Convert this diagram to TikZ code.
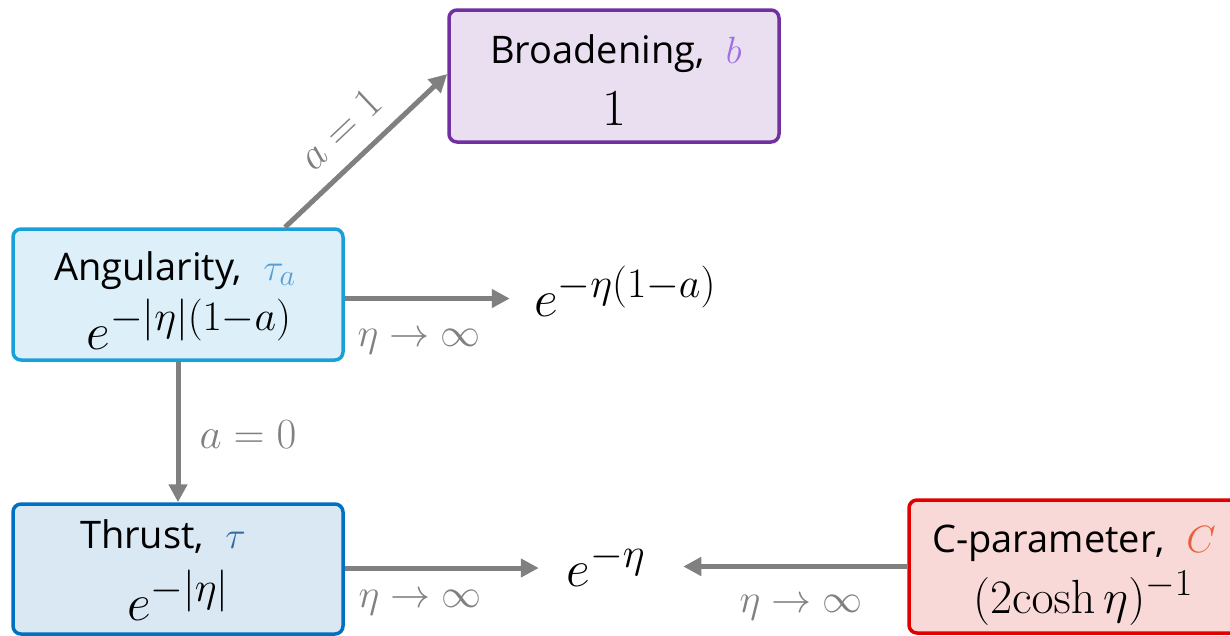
\RequirePackage{fix-cm}
\documentclass[tikz,border=0pt]{standalone}
\usepackage[no-math]{fontspec}
\setmainfont{Open Sans}
\usetikzlibrary{arrows.meta,calc}
\DeclareMathSizes{52}{52}{42}{32}
\DeclareMathSizes{48}{48}{38}{29}
\DeclareMathSizes{38}{38}{30}{22}
\definecolor{arrgray}{HTML}{808080}
\definecolor{brofill}{HTML}{E9DFF1}
\definecolor{brodraw}{HTML}{7030A0}
\definecolor{brosym}{HTML}{A070E0}
\definecolor{angfill}{HTML}{DDEFF8}
\definecolor{angdraw}{HTML}{17A1D8}
\definecolor{angsym}{HTML}{5A9FD0}
\definecolor{thrfill}{HTML}{DAE8F4}
\definecolor{thrdraw}{HTML}{0070C0}
\definecolor{thrsym}{HTML}{2E6AA6}
\definecolor{cpfill}{HTML}{F9D9D8}
\definecolor{cpdraw}{HTML}{E00000}
\definecolor{cpsym}{HTML}{E8603C}
\tikzset{
  box/.style={rectangle, rounded corners=8pt, line width=3.5pt, minimum width=330pt, minimum height=131pt, inner sep=0pt},
  title/.style={font=\fontsize{38}{42}\selectfont, inner sep=0pt, anchor=base},
  formula/.style={font=\fontsize{52}{58}\selectfont, inner sep=0pt, anchor=base},
  lbl/.style={font=\fontsize{40}{44}\selectfont, text=arrgray, inner sep=0pt},
  eqlbl/.style={font=\fontsize{43}{48}\selectfont, text=arrgray, inner sep=0pt},
  conn/.style={draw=arrgray, line width=5pt, -{Triangle[length=18pt,width=18pt]}}
}
\begin{document}
\begin{tikzpicture}[x=1pt,y=-1pt]
\useasboundingbox (0,0) rectangle (1230,635);
% boxes
\node[box, fill=brofill, draw=brodraw, minimum height=132pt] (bro) at (614,76) {};
\node[box, fill=angfill, draw=angdraw] (ang) at (178,294.5) {};
\node[box, fill=thrfill, draw=thrdraw, minimum height=130pt] (thr) at (178,569) {};
\node[box, fill=cpfill, draw=cpdraw, minimum width=332pt, minimum height=133pt] (cp) at (1075,566.5) {};
% box texts
\node[title] (bro1) at (616,63) {Broadening,\hspace{0.3em} \textcolor{brosym}{$b$}};
\node[formula] (bro2) at (614,125) {$1$};
\node[title] (ang1) at (175,280) {Angularity,\hspace{0.3em} \textcolor{angsym}{$\tau_a$}};
\node[formula] (ang2) at (189,349) {$e^{-|\eta|(1-a)}$};
\node[title] (thr1) at (163,548) {Thrust,\hspace{0.3em} \textcolor{thrsym}{$\tau$}};
\node[formula] (thr2) at (178,620) {$e^{-|\eta|}$};
\node[title] (cp1) at (1074,552) {C-parameter,\hspace{0.3em} \textcolor{cpsym}{$C$}};
\node[formula, font=\fontsize{48}{54}\selectfont] (cp2) at (1083,613) {$(2\mathrm{cosh}\,\eta)^{-1}$};
% limits
\node[formula] (limA) at (625,316) {$e^{-\eta(1-a)}$};
\node[formula] (limT) at (606,586) {$e^{-\eta}$};
% connectors
\draw[conn] ([xshift=107pt]ang.north) -- ([yshift=2pt]bro.west)
  node[eqlbl, midway, sloped, above=17pt, xshift=-4pt] (l1) {$a=1$};
\draw[conn] ([yshift=-4pt]ang.east) -- ++(165,0) coordinate (eA);
\node[lbl, anchor=base] (l2) at (419,346) {$\eta\to\infty$};
\draw[conn] (ang.south) -- (thr.north);
\node[eqlbl, anchor=base] (l3) at (248,448) {$a=0$};
\draw[conn] ([yshift=1pt]thr.east) -- ++(194,0) coordinate (eT);
\node[lbl, anchor=base] (l4) at (420,607) {$\eta\to\infty$};
\draw[conn] (cp.west) -- ++(-224,0) coordinate (eC);
\node[lbl, anchor=base] (l5) at (801,612) {$\eta\to\infty$};
\end{tikzpicture}
\end{document}
